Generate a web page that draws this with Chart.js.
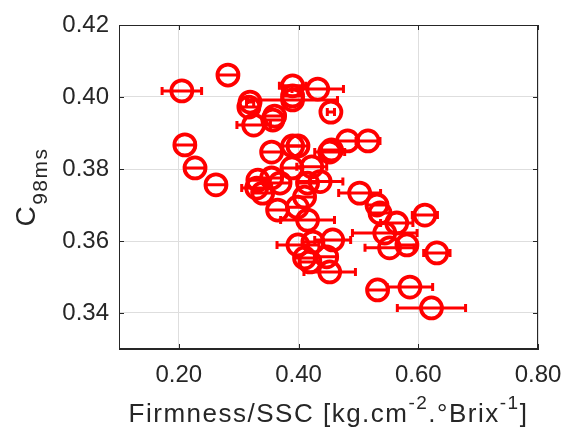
<!DOCTYPE html>
<html>
<head>
<meta charset="utf-8">
<script src="https://cdn.jsdelivr.net/npm/chart.js"></script>
<style>
  body { margin: 0; background: #fff; }
</style>
</head>
<body>
<canvas id="myChart" width="563" height="433"></canvas>
<script>
// values
var xValues = [0.205, 0.282, 0.210, 0.227, 0.262, 0.319, 0.317, 0.325, 0.360, 0.357,
               0.390, 0.390, 0.390, 0.432, 0.454, 0.355, 0.390, 0.399, 0.455, 0.452,
               0.482, 0.516, 0.389, 0.422, 0.332, 0.330, 0.340, 0.355, 0.369, 0.415,
               0.436, 0.410, 0.365, 0.398, 0.415, 0.502, 0.531, 0.536, 0.564, 0.611,
               0.544, 0.552, 0.581, 0.631, 0.532, 0.586, 0.622, 0.399, 0.424, 0.457,
               0.410, 0.419, 0.447, 0.452];
var yValues = [0.4017, 0.4061, 0.3867, 0.3803, 0.3756, 0.3986, 0.3972, 0.3922, 0.3947, 0.3936,
               0.4031, 0.4003, 0.3992, 0.4022, 0.3958, 0.3847, 0.3864, 0.3864, 0.3853, 0.3847,
               0.3878, 0.3878, 0.3803, 0.3806, 0.3769, 0.3747, 0.3733, 0.3775, 0.3761, 0.3761,
               0.3765, 0.3722, 0.3686, 0.3694, 0.3658, 0.3733, 0.3700, 0.3678, 0.3650, 0.3672,
               0.3622, 0.3581, 0.3589, 0.3567, 0.3464, 0.3472, 0.3414, 0.3589, 0.3597, 0.3603,
               0.3553, 0.3542, 0.3556, 0.3514];
var xErr = [0.033, 0.017, 0.017, 0.017, 0.017, 0.006, 0.017, 0.028, 0.017, 0.017,
            0.022, 0.017, 0.075, 0.043, 0.006, 0.017, 0.017, 0.017, 0.017, 0.025,
            0.017, 0.020, 0.017, 0.025, 0.017, 0.025, 0.017, 0.017, 0.017, 0.017,
            0.038, 0.017, 0.017, 0.017, 0.045, 0.035, 0.017, 0.017, 0.027, 0.021,
            0.054, 0.041, 0.017, 0.022, 0.017, 0.038, 0.057, 0.035, 0.017, 0.030,
            0.017, 0.017, 0.017, 0.043];
var xTicks = [0.2, 0.4, 0.6, 0.8];
var yTicks = [0.34, 0.36, 0.38, 0.40, 0.42];

var points = xValues.map(function (x, i) { return { x: x, y: yValues[i] }; });
var axisColor = "#262626";
var fontFam = '"Liberation Sans", Arial, Helvetica, sans-serif';

// horizontal error bars, drawn under the markers
var errorBars = {
    id: "errorBars",
    beforeDatasetsDraw: function (chart) {
        var ctx = chart.ctx, xs = chart.scales.x, ys = chart.scales.y;
        ctx.save();
        ctx.strokeStyle = "#ff0000";
        ctx.lineWidth = 3;
        points.forEach(function (p, i) {
            var x1 = xs.getPixelForValue(p.x - xErr[i]);
            var x2 = xs.getPixelForValue(p.x + xErr[i]);
            var y = ys.getPixelForValue(p.y);
            ctx.beginPath();
            ctx.moveTo(x1, y); ctx.lineTo(x2, y);
            ctx.moveTo(x1, y - 4); ctx.lineTo(x1, y + 4);
            ctx.moveTo(x2, y - 4); ctx.lineTo(x2, y + 4);
            ctx.stroke();
        });
        ctx.restore();
    }
};

// box, inner tick marks and axis titles with sub/superscripts
var frame = {
    id: "frame",
    afterDraw: function (chart) {
        var ctx = chart.ctx, a = chart.chartArea, xs = chart.scales.x, ys = chart.scales.y;
        ctx.save();
        ctx.strokeStyle = axisColor;
        ctx.lineWidth = 1;
        ctx.strokeRect(a.left + 0.5, a.top + 0.5, a.right - a.left - 1, a.bottom - a.top - 1);
        ctx.beginPath();
        xTicks.forEach(function (v) {
            var px = Math.round(xs.getPixelForValue(v)) + 0.5;
            ctx.moveTo(px, a.bottom); ctx.lineTo(px, a.bottom - 5);
            ctx.moveTo(px, a.top); ctx.lineTo(px, a.top + 5);
        });
        yTicks.forEach(function (v) {
            var py = Math.round(ys.getPixelForValue(v)) + 0.5;
            ctx.moveTo(a.left, py); ctx.lineTo(a.left + 5, py);
            ctx.moveTo(a.right, py); ctx.lineTo(a.right - 5, py);
        });
        ctx.stroke();

        ctx.fillStyle = axisColor;
        ctx.textBaseline = "alphabetic";
        ctx.textAlign = "left";

        // x title
        var parts = [["Firmness/SSC [kg.cm", 0], ["-2", 1], [".°Brix", 0], ["-1", 1], ["]", 0]];
        var big = "26px " + fontFam, small = "19px " + fontFam;
        if ("letterSpacing" in ctx) ctx.letterSpacing = "1.5px";
        var w = 0;
        parts.forEach(function (p) { ctx.font = p[1] ? small : big; w += ctx.measureText(p[0]).width; });
        var cx = (a.left + a.right) / 2 - w / 2;
        parts.forEach(function (p) {
            ctx.font = p[1] ? small : big;
            ctx.fillText(p[0], cx, p[1] ? 409 : 422);
            cx += ctx.measureText(p[0]).width;
        });

        // y title
        ctx.translate(35, (a.top + a.bottom) / 2);
        ctx.rotate(-Math.PI / 2);
        ctx.font = "28px " + fontFam;
        var wc = ctx.measureText("C").width;
        ctx.font = "21px " + fontFam;
        var ws = ctx.measureText("98ms").width;
        var sx = -(wc + ws) / 2;
        ctx.font = "28px " + fontFam;
        ctx.fillText("C", sx, 0);
        ctx.font = "21px " + fontFam;
        ctx.fillText("98ms", sx + wc, 12);
        ctx.restore();
    }
};

new Chart("myChart", {
    type: "scatter",
    data: {
        datasets: [{
            data: points,
            pointStyle: "circle",
            pointRadius: 10.5,
            pointHoverRadius: 10.5,
            pointBorderWidth: 3.8,
            pointBackgroundColor: "rgba(0,0,0,0)",
            pointBorderColor: "#ff0000"
        }]
    },
    options: {
        responsive: false,
        animation: false,
        events: [],
        layout: { padding: { left: 0, top: 25, right: 25, bottom: 0 } },
        plugins: {
            legend: { display: false },
            tooltip: { enabled: false }
        },
        scales: {
            x: {
                type: "linear",
                min: 0.1,
                max: 0.8,
                afterBuildTicks: function (s) { s.ticks = xTicks.map(function (v) { return { value: v }; }); },
                afterFit: function (s) { s.height = 84; s.paddingLeft = 0; s.paddingRight = 0; },
                grid: { color: "#dedede", drawTicks: false },
                border: { color: axisColor },
                ticks: {
                    padding: 12,
                    color: axisColor,
                    font: { size: 24, family: fontFam },
                    maxRotation: 0,
                    callback: function (v) { return Number(v).toFixed(2); }
                }
            },
            y: {
                type: "linear",
                min: 0.33,
                max: 0.42,
                afterBuildTicks: function (s) { s.ticks = yTicks.map(function (v) { return { value: v }; }); },
                afterFit: function (s) { s.width = 119; s.paddingTop = 0; s.paddingBottom = 0; },
                grid: { color: "#dedede", drawTicks: false },
                border: { color: axisColor },
                ticks: {
                    padding: 10,
                    color: axisColor,
                    font: { size: 24, family: fontFam },
                    callback: function (v) { return Number(v).toFixed(2); }
                }
            }
        }
    },
    plugins: [errorBars, frame]
});
</script>
</body>
</html>
